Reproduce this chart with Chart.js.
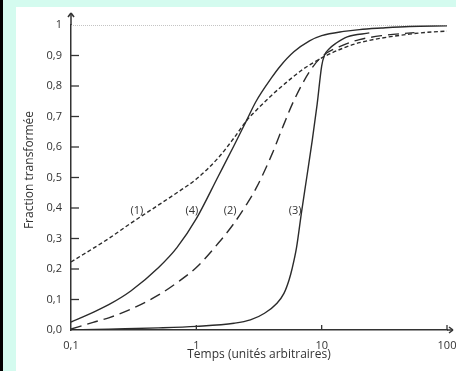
<!DOCTYPE html>
<html>
<head>
<meta charset="utf-8">
<script src="https://cdn.jsdelivr.net/npm/chart.js@4.4.1/dist/chart.umd.min.js"></script>
<style>
  body { margin: 0; background: #fff; }
  #frame { position: absolute; left: 0; top: 0; width: 456px; height: 371px; background: #d4fbef; border-left: 3px solid #000; box-sizing: border-box; }
  #paper { position: absolute; left: 13px; top: 7px; width: 440px; height: 364px; background: #fff; }
</style>
</head>
<body>
<div id="frame"><div id="paper"><canvas id="myChart" width="440" height="364"></canvas></div></div>
<script>
// tick labels
var xTicks = [0.1, 1, 10, 100];
var xTickLabels = ["0,1", "1", "10", "100"];

// curve (1) short dashes
var temps1 = [0.1, 0.2, 0.3, 0.5, 0.7, 1, 1.5, 2, 2.5, 3, 4, 5, 7, 10, 15, 20, 30, 50, 70, 100];
var courbe1 = [0.223, 0.3, 0.35, 0.41, 0.45, 0.495, 0.565, 0.63, 0.685, 0.72, 0.77, 0.805, 0.853, 0.892, 0.925, 0.942, 0.957, 0.97, 0.976, 0.98];

// curve (2) long dashes
var temps2 = [0.1, 0.15, 0.2, 0.3, 0.5, 0.7, 1, 1.5, 2, 2.5, 3, 4, 5, 6, 8, 10, 15, 20, 30, 55];
var courbe2 = [0.003, 0.025, 0.04, 0.068, 0.115, 0.155, 0.205, 0.285, 0.35, 0.41, 0.465, 0.575, 0.675, 0.752, 0.847, 0.896, 0.935, 0.952, 0.965, 0.975];

// curve (3) solid, steep
var temps3 = [0.1, 0.2, 0.5, 1, 2, 2.7, 3.5, 4.4, 5, 5.5, 5.8, 6.3, 6.9, 7.6, 8.4, 9.2, 10, 10.5, 11.5, 13, 16, 24];
var courbe3 = [0.0, 0.003, 0.007, 0.012, 0.022, 0.033, 0.055, 0.088, 0.12, 0.165, 0.2, 0.27, 0.385, 0.5, 0.62, 0.74, 0.865, 0.9, 0.922, 0.94, 0.961, 0.974];

// curve (4) solid
var temps4 = [0.1, 0.15, 0.2, 0.3, 0.5, 0.7, 1, 1.5, 2, 2.5, 3, 4, 4.65, 6, 8, 10, 15, 20, 30, 50, 100];
var courbe4 = [0.026, 0.058, 0.083, 0.128, 0.205, 0.27, 0.365, 0.505, 0.605, 0.685, 0.75, 0.828, 0.864, 0.912, 0.948, 0.965, 0.979, 0.985, 0.99, 0.995, 0.997];

// curve names, written next to the curves
var nomsCourbes = ["(1)", "(4)", "(2)", "(3)"];

function points(ts, ys) {
  return ts.map(function (t, i) { return { x: t, y: ys[i] }; });
}

function line(ctx, x1, y1, x2, y2) {
  ctx.beginPath();
  ctx.moveTo(x1, y1);
  ctx.lineTo(x2, y2);
  ctx.stroke();
}

var ink = "#2b2b2b";

// inner tick marks, axis arrows, y title and curve names
var decor = {
  id: "decor",
  afterDraw: function (chart) {
    var ctx = chart.ctx;
    var a = chart.chartArea;
    var x = chart.scales.x;
    var y = chart.scales.y;
    ctx.save();
    ctx.strokeStyle = "#333";
    ctx.lineWidth = 1.3;
    y.ticks.forEach(function (t) {
      if (t.value > 0.05 && t.value < 0.95) {
        var py = y.getPixelForValue(t.value);
        line(ctx, a.left, py, a.left + 8, py);
      }
    });
    x.ticks.forEach(function (t) {
      if (t.value > 0.15) {
        var px = x.getPixelForValue(t.value);
        line(ctx, px, a.bottom, px, a.bottom - 5);
      }
    });
    // axis extensions with arrow heads
    ctx.lineWidth = 1.5;
    line(ctx, a.left, a.top, a.left, a.top - 12);
    line(ctx, a.left - 3, a.top - 8, a.left, a.top - 12);
    line(ctx, a.left + 3, a.top - 8, a.left, a.top - 12);
    line(ctx, a.right, a.bottom, a.right + 6, a.bottom);
    line(ctx, a.right + 2, a.bottom - 3, a.right + 6, a.bottom);
    line(ctx, a.right + 2, a.bottom + 3, a.right + 6, a.bottom);

    ctx.fillStyle = "#333";
    ctx.textAlign = "center";
    ctx.textBaseline = "middle";
    // y title
    ctx.font = "12px 'Open Sans'";
    ctx.save();
    ctx.translate(14, 163);
    ctx.rotate(-Math.PI / 2);
    ctx.fillText("Fraction transformée", 0, 0);
    ctx.restore();
    // curve names
    ctx.font = "11px 'Open Sans'";
    var where = [0.336, 0.92, 1.86, 6.13];
    nomsCourbes.forEach(function (n, i) {
      ctx.fillText(n, x.getPixelForValue(where[i]), y.getPixelForValue(0.39));
    });
    ctx.restore();
  }
};

Chart.defaults.font.family = "'Open Sans', sans-serif";
Chart.defaults.font.size = 11;
Chart.defaults.color = "#333";

var ctx = document.getElementById("myChart").getContext("2d");
var chart = new Chart(ctx, {
  type: "line",
  data: {
    datasets: [
      {
        label: "1",
        data: [{ x: 0.1, y: 1 }, { x: 100, y: 1 }],
        borderColor: "#888",
        borderWidth: 1,
        borderDash: [1, 1],
      },
      {
        label: "(1)",
        data: points(temps1, courbe1),
        borderColor: ink,
        borderWidth: 1.4,
        borderDash: [4, 2.5],
      },
      {
        label: "(2)",
        data: points(temps2, courbe2),
        borderColor: ink,
        borderWidth: 1.4,
        borderDash: [11, 6],
      },
      {
        label: "(3)",
        data: points(temps3, courbe3),
        borderColor: ink,
        borderWidth: 1.4,
      },
      {
        label: "(4)",
        data: points(temps4, courbe4),
        borderColor: ink,
        borderWidth: 1.4,
      },
    ],
  },
  options: {
    responsive: false,
    animation: false,
    devicePixelRatio: 1,
    layout: { padding: { top: 18, right: 9, left: 0, bottom: 0 } },
    elements: {
      point: { radius: 0 },
      line: { cubicInterpolationMode: "monotone", fill: false },
    },
    plugins: {
      legend: { display: false },
      tooltip: { enabled: false },
    },
    scales: {
      x: {
        type: "logarithmic",
        min: 0.1,
        max: 100,
        afterBuildTicks: function (scale) {
          scale.ticks = xTicks.map(function (v) { return { value: v }; });
        },
        afterFit: function (scale) {
          scale.height = 41;
          scale.paddingLeft = 0;
          scale.paddingRight = 0;
        },
        ticks: {
          autoSkip: false,
          maxRotation: 0,
          padding: 9,
          callback: function (v) {
            var i = xTicks.indexOf(v);
            return i >= 0 ? xTickLabels[i] : "";
          },
        },
        grid: { display: false, drawTicks: false },
        border: { display: true, color: "#333", width: 1.5 },
        title: {
          display: true,
          text: "Temps (unités arbitraires)",
          padding: { top: 0, bottom: 9 },
          font: { size: 12 },
        },
      },
      y: {
        min: 0,
        max: 1,
        afterFit: function (scale) {
          scale.width = 55;
          scale.paddingTop = 0;
          scale.paddingBottom = 0;
        },
        ticks: {
          stepSize: 0.1,
          padding: 9,
          callback: function (v) {
            return v === 1 ? "1" : v.toFixed(1).replace(".", ",");
          },
        },
        grid: { display: false, drawTicks: false },
        border: { display: true, color: "#333", width: 1.5 },
      },
    },
  },
  plugins: [decor],
});
</script>
</body>
</html>
